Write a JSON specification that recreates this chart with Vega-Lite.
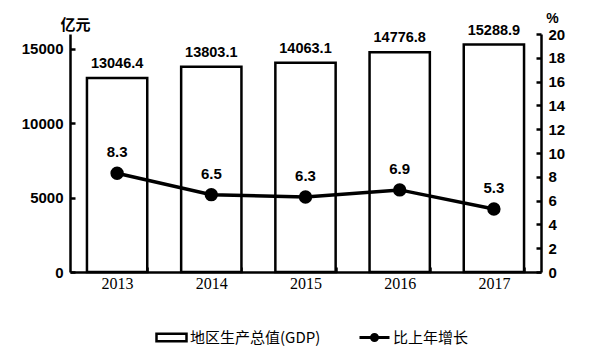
{
  "$schema": "https://vega.github.io/schema/vega-lite/v6.json",
  "width": 471,
  "height": 238,
  "autosize": "none",
  "padding": {"left": 70, "top": 34, "right": 69, "bottom": 89},
  "background": "white",
  "config": {
    "view": {"stroke": null},
    "axis": {"grid": false, "domainColor": "black", "tickColor": "black", "domainWidth": 2.5, "tickWidth": 2.5, "labelColor": "black", "titleColor": "black"}
  },
  "data": {
    "values": [
      {"year": "2013", "gdp": 13046.4, "growth": 8.3, "s1": "地区生产总值(GDP)", "s2": "比上年增长"},
      {"year": "2014", "gdp": 13803.1, "growth": 6.5, "s1": "地区生产总值(GDP)", "s2": "比上年增长"},
      {"year": "2015", "gdp": 14063.1, "growth": 6.3, "s1": "地区生产总值(GDP)", "s2": "比上年增长"},
      {"year": "2016", "gdp": 14776.8, "growth": 6.9, "s1": "地区生产总值(GDP)", "s2": "比上年增长"},
      {"year": "2017", "gdp": 15288.9, "growth": 5.3, "s1": "地区生产总值(GDP)", "s2": "比上年增长"}
    ]
  },
  "encoding": {
    "x": {
      "field": "year", "type": "ordinal",
      "scale": {"paddingInner": 0.36, "paddingOuter": 0.18},
      "axis": {"title": null, "labelAngle": 0, "tickBand": "extent", "tickSize": -5, "labelPadding": 8,
               "labelFont": "Liberation Serif", "labelFontSize": 16, "labelFontWeight": "normal"}
    }
  },
  "layer": [
    {
      "mark": {"type": "bar", "stroke": "black", "strokeWidth": 2.5},
      "encoding": {
        "y": {"field": "gdp", "type": "quantitative", "scale": {"domain": [0, 16000]},
              "axis": {"values": [0, 5000, 10000, 15000], "format": "d", "tickSize": -5, "labelPadding": 12,
                       "labelFont": "Liberation Sans", "labelFontSize": 15, "labelFontWeight": "bold",
                       "title": "亿元", "titleAngle": 0, "titleX": 5, "titleY": -10, "titleAlign": "center",
                       "titleBaseline": "middle", "titleFont": "Noto Sans CJK SC", "titleFontSize": 15, "titleFontWeight": "bold"}},
        "fill": {"field": "s1", "type": "nominal", "scale": {"range": ["white"]},
                 "legend": {"title": null, "orient": "none", "legendX": 85, "legendY": 287,
                            "symbolType": "M-1,-0.25H1V0.25H-1Z", "symbolSize": 900,
                            "symbolStrokeColor": "black", "symbolStrokeWidth": 2.5,
                            "labelFont": "Noto Sans CJK SC", "labelFontSize": 15, "labelColor": "black", "labelOffset": 2,
                            "encode": {"symbols": {"update": {"stroke": {"value": "black"}, "strokeWidth": {"value": 2.5}, "fill": {"value": "white"}}}}}}
      }
    },
    {
      "mark": {"type": "text", "dy": -14, "baseline": "middle", "font": "Liberation Sans", "fontSize": 14.5, "fontWeight": "bold", "color": "black"},
      "encoding": {
        "y": {"field": "gdp", "type": "quantitative", "scale": {"domain": [0, 16000]}, "axis": null},
        "text": {"field": "gdp", "type": "quantitative", "format": ".1f"}
      }
    },
    {
      "mark": {"type": "line", "strokeWidth": 3.5, "color": "black", "point": {"filled": true, "size": 130, "color": "black"}},
      "encoding": {
        "y": {"field": "growth", "type": "quantitative", "scale": {"domain": [0, 20]},
              "axis": {"orient": "right", "values": [0, 2, 4, 6, 8, 10, 12, 14, 16, 18, 20], "tickSize": -5, "labelPadding": 12,
                       "labelFont": "Liberation Sans", "labelFontSize": 15, "labelFontWeight": "bold",
                       "title": "%", "titleAngle": 0, "titleX": 11, "titleY": -16, "titleAlign": "center",
                       "titleBaseline": "middle", "titleFont": "Liberation Sans", "titleFontSize": 14, "titleFontWeight": "bold"}},
        "stroke": {"field": "s2", "type": "nominal", "scale": {"range": ["black"]},
                   "legend": {"title": null, "orient": "none", "legendX": 288, "legendY": 287,
                              "symbolType": "M-1,0H1M-0.2,0A0.2,0.2 0 1,1 0.2,0A0.2,0.2 0 1,1 -0.2,0Z", "symbolSize": 900,
                              "symbolStrokeWidth": 3, "symbolFillColor": "black",
                              "labelFont": "Noto Sans CJK SC", "labelFontSize": 15, "labelColor": "black", "labelOffset": 2,
                              "encode": {"symbols": {"update": {"stroke": {"value": "black"}, "strokeWidth": {"value": 3}, "fill": {"value": "black"}, "opacity": {"value": 1}}}}}}
      }
    },
    {
      "mark": {"type": "text", "dy": -21, "baseline": "middle", "font": "Liberation Sans", "fontSize": 15, "fontWeight": "bold", "color": "black"},
      "encoding": {
        "y": {"field": "growth", "type": "quantitative", "scale": {"domain": [0, 20]}, "axis": null},
        "text": {"field": "growth", "type": "quantitative", "format": ".1f"}
      }
    }
  ],
  "resolve": {"scale": {"y": "independent"}}
}
